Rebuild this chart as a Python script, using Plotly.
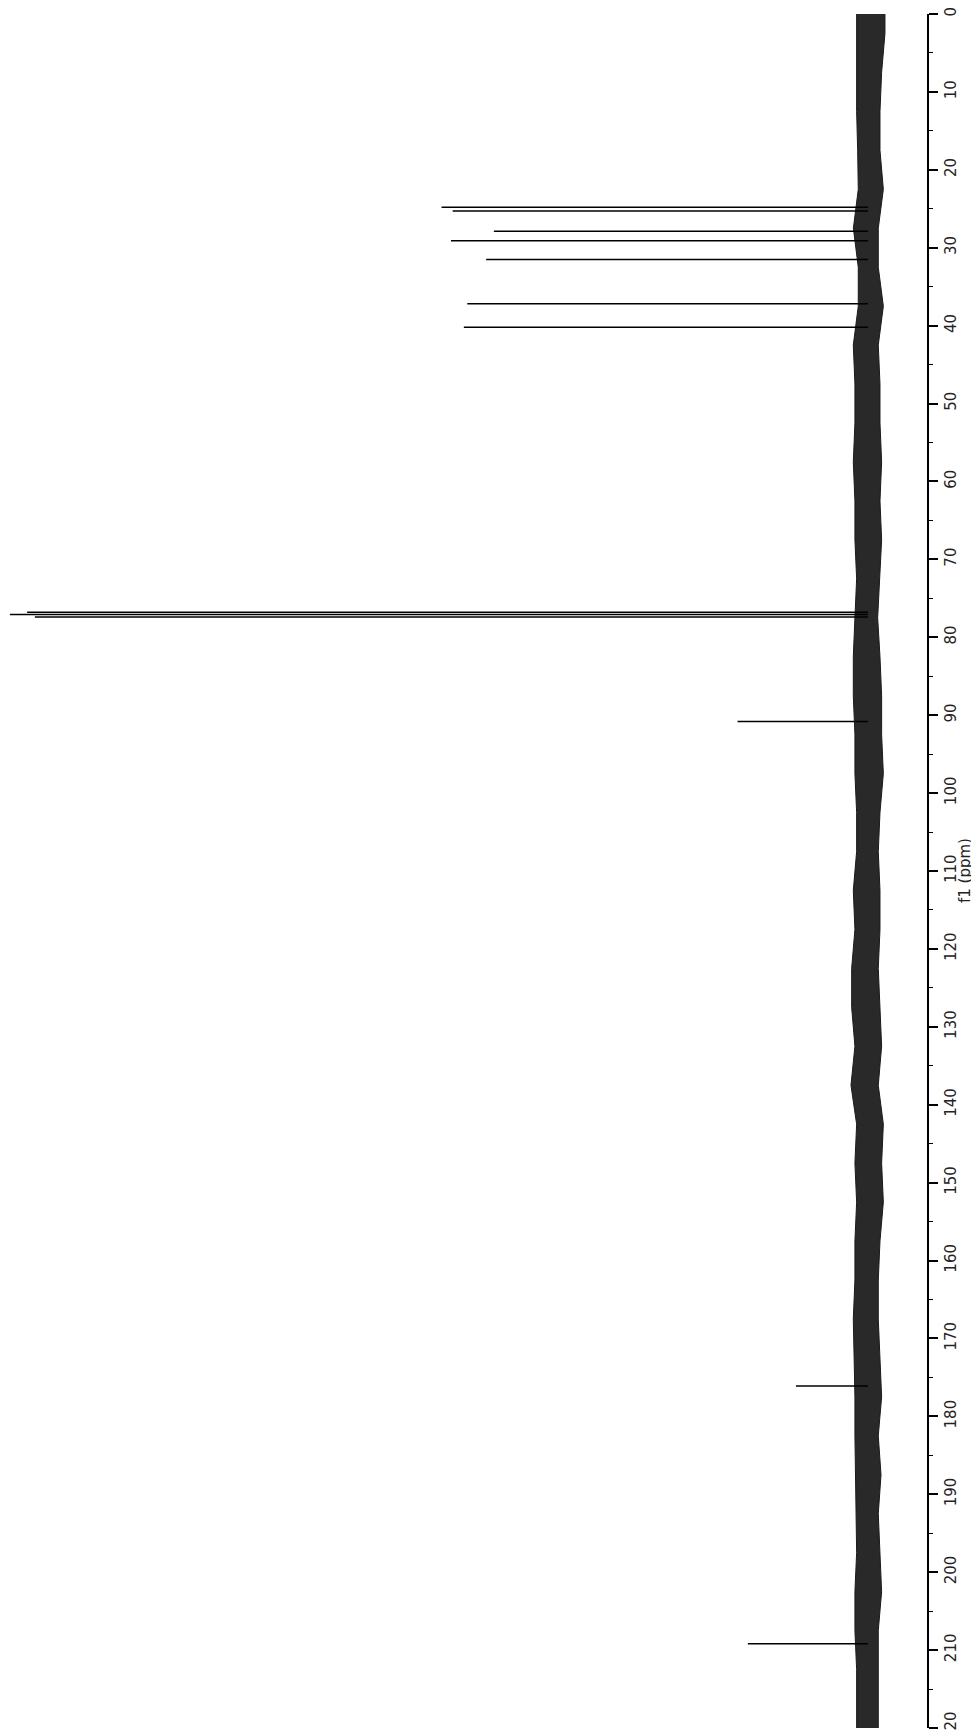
import plotly.graph_objects as go

# ---- data ----
# noise envelope of the baseline (relative intensity, % of tallest peak)
noise_ppm = [0, 2.5, 7.5, 12.5, 17.5, 22.5, 27.5, 32.5, 37.5, 42.5, 47.5, 52.5, 57.5, 62.5,
             67.5, 72.5, 77.5, 82.5, 87.5, 92.5, 97.5, 102.5, 107.5, 112.5, 117.5, 122.5,
             127.5, 132.5, 137.5, 142.5, 147.5, 152.5, 157.5, 162.5, 167.5, 172.5, 177.5,
             182.5, 187.5, 192.5, 197.5, 202.5, 207.5, 212.5, 217.5, 220]
noise_upper = [1.32, 1.32, 1.32, 1.32, 1.20, 1.13, 1.70, 1.13, 1.13, 1.71, 1.52, 1.52, 1.71, 1.52,
               1.52, 1.32, 1.52, 1.71, 1.71, 1.52, 1.52, 1.32, 1.32, 1.71, 1.52, 1.90,
               1.90, 1.52, 1.98, 1.32, 1.52, 1.32, 1.52, 1.52, 1.71, 1.59, 1.52,
               1.52, 1.44, 1.32, 1.32, 1.52, 1.52, 1.32, 1.32, 1.32]
noise_lower = [-1.98, -1.98, -1.59, -1.40, -1.40, -1.79, -1.20, -1.20, -1.79, -1.20, -1.40, -1.40, -1.59, -1.40,
               -1.59, -1.40, -1.13, -1.40, -1.59, -1.59, -1.79, -1.40, -1.20, -1.40, -1.40, -1.20,
               -1.40, -1.59, -1.20, -1.79, -1.59, -1.79, -1.40, -1.20, -1.20, -1.40, -1.59,
               -1.20, -1.52, -1.20, -1.40, -1.59, -1.20, -1.20, -1.20, -1.20]

# resolved peaks: chemical shift (ppm) and relative intensity
peak_ppm = [24.8, 25.3, 27.9, 29.1, 31.5, 37.2, 40.2, 76.8, 77.07, 77.4, 90.8, 176.1, 209.2]
peak_int = [49.7, 48.4, 43.6, 48.6, 44.5, 46.7, 47.1, 98.0, 100.0, 97.1, 15.2, 8.4, 14.0]

# axis ticks
tick_vals = list(range(0, 230, 10))
tick_text = [str(v) for v in tick_vals]
axis_title = "f1 (ppm)"

# ---- figure ----
fig = go.Figure()

# baseline noise band
fig.add_trace(go.Scatter(x=noise_lower, y=noise_ppm, mode="lines",
                         line=dict(color="#1a1a1a", width=1), showlegend=False,
                         hoverinfo="skip"))
fig.add_trace(go.Scatter(x=noise_upper, y=noise_ppm, mode="lines", fill="tonextx",
                         fillcolor="rgba(0,0,0,0.84)",
                         line=dict(color="#1a1a1a", width=1), showlegend=False,
                         hoverinfo="skip"))

# peaks as sticks from the baseline
px, py = [], []
for p, h in zip(peak_ppm, peak_int):
    px += [0, h, None]
    py += [p, p, None]
fig.add_trace(go.Scatter(x=px, y=py, mode="lines",
                         line=dict(color="black", width=1.5), showlegend=False))

font = dict(family="DejaVu Sans", size=15, color="#222")

fig.update_xaxes(range=[100.23, -6.88], visible=False, showgrid=False, zeroline=False)
fig.update_yaxes(range=[220, 0], side="right", showline=True, linecolor="black",
                 linewidth=1.5, ticks="outside", ticklen=9, tickwidth=1.5,
                 tickcolor="black", tickvals=tick_vals, ticktext=tick_text,
                 tickangle=-90, tickfont=font, showgrid=False, zeroline=False,
                 ticklabeloverflow="allow",
                 minor=dict(ticks="outside", dtick=5, tick0=0, ticklen=4,
                            tickwidth=1.2, tickcolor="black"),
                 automargin=False)

fig.add_annotation(text=axis_title, xref="paper", yref="paper", x=1.0414, y=0.5,
                   xanchor="center", yanchor="middle", textangle=-90,
                   showarrow=False, font=font)

# the page adds an 8px body margin, so the figure is 8px smaller each way
fig.update_layout(width=971, height=1724, margin=dict(l=0, r=52, t=6, b=4),
                  paper_bgcolor="white", plot_bgcolor="white", showlegend=False)

fig.write_html("out.html")
